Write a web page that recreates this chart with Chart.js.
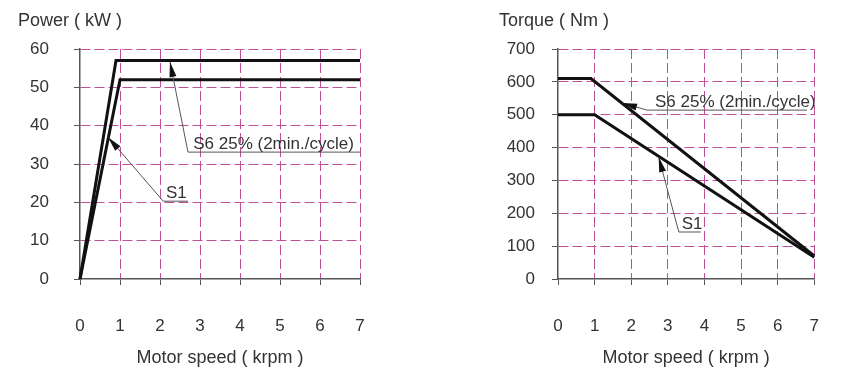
<!DOCTYPE html>
<html><head><meta charset="utf-8">
<script src="https://cdn.jsdelivr.net/npm/chart.js@4/dist/chart.umd.min.js"></script>
<style>
html,body{margin:0;padding:0;background:#fff;}
#wrap{position:relative;width:850px;height:370px;background:#fff;}
canvas{position:absolute;top:0;}
#c1{left:0}
#c2{left:425px}
</style></head><body>
<div id="wrap"><canvas id="c1" width="425" height="370"></canvas><canvas id="c2" width="425" height="370"></canvas></div>
<script>
// ---- data ----
const speedTicks = [0, 1, 2, 3, 4, 5, 6, 7];
const powerTicks = [0, 10, 20, 30, 40, 50, 60];
const torqueTicks = [0, 100, 200, 300, 400, 500, 600, 700];

const powerSpeedS6 = [0, 0.9, 7];
const powerS6 = [0, 57, 57];
const powerSpeedS1 = [0, 1.0, 7];
const powerS1 = [0, 52, 52];

const torqueSpeedS6 = [0, 0.9, 7];
const torqueS6 = [610, 610, 70];
const torqueSpeedS1 = [0, 1.0, 7];
const torqueS1 = [500, 500, 66];

const powerTitle = 'Power ( kW )';
const torqueTitle = 'Torque ( Nm )';
const speedTitle = 'Motor speed ( krpm )';
const labelS6 = 'S6 25% (2min./cycle)';
const labelS1 = 'S1';

// annotation anchors in data units
const powerNotes = [
  {text: labelS6, textX: 2.83, under: [2.7, 7.0, 33.1], tip: [2.25, 56.6]},
  {text: labelS1, textX: 2.15, under: [2.08, 2.7, 20.3], tip: [0.7, 37.0]}
];
const torqueNotes = [
  {text: labelS6, textX: 2.65, under: [2.43, 6.8, 514], tip: [1.75, 536]},
  {text: labelS1, textX: 3.38, under: [3.3, 3.9, 143], tip: [2.75, 371]}
];

// ---- styling ----
const FONT = '"Liberation Sans", Arial, sans-serif';
const TXT = '#333';
const GRID = '#bf4f97';
const AXIS = '#555';

function pts(xs, ys) { return xs.map((x, i) => ({x: x, y: ys[i]})); }

function notesPlugin(notes) {
  return {
    id: 'notes',
    afterDatasetsDraw(chart) {
      const {ctx, scales: {x, y}} = chart;
      ctx.save();
      notes.forEach(n => {
        const ux1 = x.getPixelForValue(n.under[0]);
        const ux2 = x.getPixelForValue(n.under[1]);
        const uy = y.getPixelForValue(n.under[2]);
        const tx = x.getPixelForValue(n.tip[0]);
        const ty = y.getPixelForValue(n.tip[1]);
        ctx.strokeStyle = AXIS; ctx.lineWidth = 1;
        ctx.beginPath(); ctx.moveTo(ux2, uy); ctx.lineTo(ux1, uy); ctx.lineTo(tx, ty); ctx.stroke();
        const ang = Math.atan2(ty - uy, tx - ux1);
        const L = 15, W = 3.5;
        ctx.fillStyle = '#111';
        ctx.beginPath();
        ctx.moveTo(tx, ty);
        ctx.lineTo(tx - L * Math.cos(ang) + W * Math.sin(ang), ty - L * Math.sin(ang) - W * Math.cos(ang));
        ctx.lineTo(tx - L * Math.cos(ang) - W * Math.sin(ang), ty - L * Math.sin(ang) + W * Math.cos(ang));
        ctx.closePath(); ctx.fill();
        ctx.fillStyle = TXT;
        ctx.font = '17px ' + FONT;
        ctx.textAlign = 'left'; ctx.textBaseline = 'alphabetic';
        ctx.fillText(n.text, x.getPixelForValue(n.textX), uy - 3);
      });
      ctx.restore();
    }
  };
}

function yTitlePlugin(text, dx) {
  return {
    id: 'ytitle',
    afterDraw(chart) {
      const {ctx, chartArea} = chart;
      ctx.save();
      ctx.fillStyle = TXT;
      ctx.font = '18px ' + FONT;
      ctx.textAlign = 'left'; ctx.textBaseline = 'middle';
      ctx.fillText(text, chartArea.left - dx, 21);
      ctx.restore();
    }
  };
}

function makeChart(id, cfg) {
  const gridColor = c => (c.tick && c.tick.value === 0) ? 'rgba(0,0,0,0)' : GRID;
  return new Chart(document.getElementById(id), {
    type: 'line',
    data: {
      datasets: [
        {label: 'S6 25% (2min./cycle)', data: pts(cfg.xs6, cfg.ys6), borderColor: '#111', borderWidth: 3, pointRadius: 0, tension: 0, clip: false, borderJoinStyle: 'miter'},
        {label: 'S1', data: pts(cfg.xs1, cfg.ys1), borderColor: '#111', borderWidth: 3, pointRadius: 0, tension: 0, clip: false, borderJoinStyle: 'miter'}
      ]
    },
    options: {
      responsive: false, animation: false, devicePixelRatio: 1,
      layout: {padding: {top: 49, right: cfg.padRight, left: 0, bottom: 0}},
      plugins: {legend: {display: false}, tooltip: {enabled: false}},
      scales: {
        x: {
          type: 'linear', min: 0, max: 7,
          afterBuildTicks: s => { s.ticks = speedTicks.map(v => ({value: v})); },
          afterFit: s => { s.height = 91; },
          ticks: {padding: 31, color: TXT, font: {family: FONT, size: 17}, maxRotation: 0},
          grid: {color: gridColor, tickColor: AXIS, tickLength: 6, lineWidth: 1},
          border: {display: true, color: AXIS, width: 1.5, dash: [10, 4]},
          title: {display: true, text: speedTitle, color: TXT, font: {family: FONT, size: 18}, padding: {top: 0, bottom: 1}}
        },
        y: {
          type: 'linear', min: 0, max: cfg.yMax,
          afterBuildTicks: s => { s.ticks = cfg.yTicks.map(v => ({value: v})); },
          afterFit: s => { s.width = cfg.yWidth; },
          ticks: {padding: cfg.yPad, color: TXT, font: {family: FONT, size: 17}},
          grid: {color: gridColor, tickColor: AXIS, tickLength: 6, lineWidth: 1},
          border: {display: true, color: AXIS, width: 1.5, dash: [10, 4]}
        }
      }
    },
    plugins: [notesPlugin(cfg.notes), yTitlePlugin(cfg.title, cfg.titleDx)]
  });
}

makeChart('c1', {xs6: powerSpeedS6, ys6: powerS6, xs1: powerSpeedS1, ys1: powerS1,
  yMax: 60, yTicks: powerTicks, yWidth: 80, yPad: 25, padRight: 65, notes: powerNotes, title: powerTitle, titleDx: 62});
makeChart('c2', {xs6: torqueSpeedS6, ys6: torqueS6, xs1: torqueSpeedS1, ys1: torqueS1,
  yMax: 700, yTicks: torqueTicks, yWidth: 133, yPad: 17, padRight: 12, notes: torqueNotes, title: torqueTitle, titleDx: 59});
</script>
</body></html>
